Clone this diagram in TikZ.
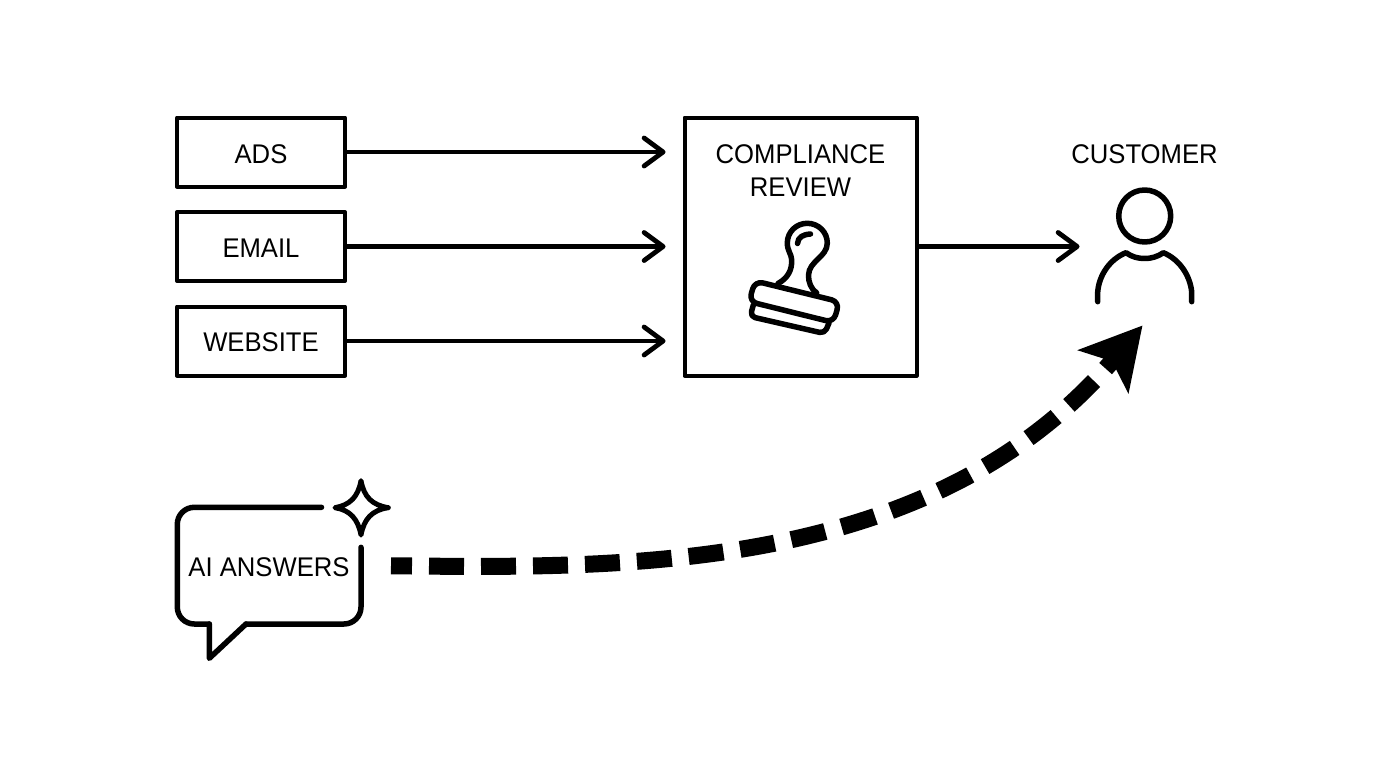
\documentclass[tikz,border=0pt]{standalone}
\usepackage{fontspec}
\setmainfont[FakeStretch=0.95]{Liberation Sans}
\usetikzlibrary{arrows.meta}
\tikzset{
    base/.style={
        font=\fontsize{27}{33}\selectfont,
        align=center,
        inner sep=0pt
    },
    channel/.style={
        rectangle,
        draw,
        line width=4pt,
        line join=round,
        minimum width=168pt,
        minimum height=69pt,
        inner sep=0pt
    },
    review/.style={
        rectangle,
        draw,
        line width=4pt,
        line join=round,
        minimum width=232pt,
        minimum height=258pt,
        inner sep=0pt
    },
    slot/.style={
        rectangle,
        inner sep=0pt,
        outer sep=0pt
    },
    flow/.style={
        -{Straight Barb[length=19pt, width=28pt, round]},
        line width=4.8pt,
        line cap=round
    },
    icon/.style={
        line width=5.5pt,
        line cap=round,
        line join=round
    },
    aiflow/.style={
        -{Stealth[length=60pt, width=65pt, inset=13pt]},
        line width=17pt,
        dash pattern=on 35pt off 17pt,
        dash phase=14pt
    }
}

\begin{document}
\begin{tikzpicture}[x=1pt, y=-1pt]
  \useasboundingbox (0,0) rectangle (1376,768);

  % Channels
  \node[channel] (ads) at (261,152) {};
  \node[channel] (email) at (261,246.5) {};
  \node[channel] (website) at (261,341) {};
  \node[base] (adstext) at (261,154) {ADS};
  \node[base] (emailtext) at (261,248) {EMAIL};
  \node[base] (websitetext) at (261,342) {WEBSITE};

  % Review box
  \node[review] (box) at (800.5,246.5) {};
  \node[base] (boxtext) at (800.5,170.5) {COMPLIANCE\\REVIEW};

  % Customer
  \node[base] (customer) at (1144.5,154) {CUSTOMER};
  \node[slot, minimum width=98pt, minimum height=118pt] (person) at (1144.5,246.5) {};

  % Edges
  \draw[flow, shorten >=17pt] (ads) -- (ads -| box.west);
  \draw[flow, shorten >=17pt] (email) -- (email -| box.west);
  \draw[flow, shorten >=17pt] (website) -- (website -| box.west);
  \draw[flow, shorten >=16pt] (box) -- (person);

  % Stamp
  \draw[icon] (778,283.5) .. controls (788,278) and (792,270) .. (791.7,260)
    .. controls (791.5,254) and (787.3,251) .. (787.3,243)
    .. controls (787.3,232) and (796.3,223.3) .. (807.3,223.3)
    .. controls (818.3,223.3) and (827.3,232) .. (827.3,243)
    .. controls (827.3,257) and (809,261) .. (808.5,275)
    .. controls (808.3,282) and (811,289) .. (816.7,293);
  \draw[icon] (797.5,243.5) .. controls (798,237) and (803,234.5) .. (810.5,234);
  \draw[icon, rounded corners=8pt] (755,281) -- (839.3,301.7) -- (833.5,322.5) -- (749,301.5) -- cycle;
  \draw[icon, rounded corners=5pt] (753.3,305) -- (750.2,316.5) -- (824.5,333.5) -- (829,323);

  % AI answers
  \node[slot, minimum width=184pt, minimum height=117pt] (bubble) at (269,565.5) {};
  \node[base] (aitext) at (269,567) {AI ANSWERS};
  \draw[icon, rounded corners=17pt] (321.5,507.3) -- (177.3,507.3) -- (177.3,624)
    -- (209.3,624);
  \draw[icon] (209.3,624) -- (209.3,658.3) -- (246,624);
  \draw[icon, rounded corners=17pt] (246,624) -- (361,624) -- (361,547.3);
  \draw[icon, line width=5pt] (361,480.7) .. controls (364,497) and (372,505) .. (388.3,507.7)
    .. controls (372,510) and (364,519) .. (361,535)
    .. controls (358,519) and (350,510) .. (335,507.7)
    .. controls (350,505) and (358,497) .. (361,480.7) -- cycle;

  % Person
  \draw[icon] (1144.7,216) circle (26);
  \draw[icon] (1097.7,301.7) -- (1097.7,292) .. controls (1099,275) and (1110,259) .. (1126,252.7)
    .. controls (1132,257) and (1138,258.5) .. (1144.7,258.5)
    .. controls (1151,258.5) and (1157,257) .. (1163.3,252.7)
    .. controls (1179,259) and (1190,275) .. (1191.7,292) -- (1191.7,301.7);

  % Dashed path
  \coordinate (dashend) at (1142.5,325.5);
  \draw[aiflow, shorten <=30pt] (bubble.east) .. controls (620,568) and (930,575) .. (dashend);
\end{tikzpicture}
\end{document}
